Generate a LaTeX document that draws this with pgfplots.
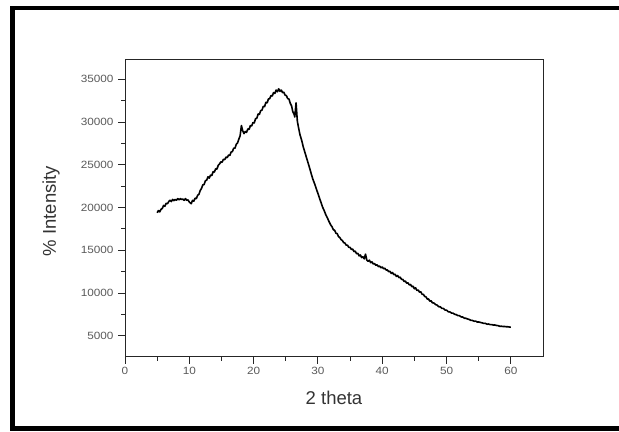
\documentclass[border=0pt]{standalone}
\usepackage{pgfplots}
\pgfplotsset{compat=1.18}
\usepackage{fontspec}
\setmainfont{Liberation Sans}
\newfontfamily\tickfont[FakeStretch=1.12]{Liberation Sans}
\begin{document}
\begin{tikzpicture}[x=1bp,y=1bp]
\useasboundingbox (0,0) rectangle (619,431);
\draw[line width=4.8bp] (640,2.5) -- (12.5,2.5) -- (12.5,423) -- (640,423);
\begin{axis}[
  at={(125bp,74.3bp)}, anchor=south west,
  scale only axis, width=418bp, height=297.4bp,
  xmin=0, xmax=65, ymin=2550, ymax=37350,
  xtick={0,10,...,60}, ytick={5000,10000,...,35000},
  minor x tick num=1, minor y tick num=1,
  xtick pos=bottom, ytick pos=left,
  tick align=outside,
  major tick length=7bp, minor tick length=4bp,
  axis line style={black!85, line width=0.9bp},
  every tick/.style={black!85, line width=0.9bp},
  scaled ticks=false,
  /pgf/number format/1000 sep={},
  /pgf/number format/assume math mode=true,
  ticklabel style={font=\tickfont\fontsize{10.5bp}{12bp}\selectfont, text=black!65},
  yticklabel style={xshift=-1bp},
  xlabel={2 theta}, ylabel={\% Intensity},
  label style={font=\fontsize{18.5bp}{21bp}\selectfont, text=black!80},
  xlabel style={at={(axis description cs:0.5,-0.139)}, anchor=center},
  ylabel style={at={(axis description cs:-0.177,0.49)}, anchor=center},
]
\addplot[black, line width=1.6bp, line join=round, mark=none] coordinates {
(5.0,19400) (5.2,19650) (5.4,19500) (5.6,19800) (5.8,19900) (6.0,20250) (6.2,20150) (6.4,20500)
(6.6,20450) (6.8,20700) (7.0,20850) (7.2,20700) (7.4,20950) (7.6,20800) (7.8,20950) (8.0,20850)
(8.2,21050) (8.4,20900) (8.6,21050) (8.8,20950) (9.0,21000) (9.2,20850) (9.4,21050) (9.6,20850)
(9.8,20900) (10.0,20650) (10.3,20450) (10.5,20850) (10.7,20750) (10.9,21100) (11.1,21050)
(11.3,21450) (11.5,21550) (11.7,22000) (11.9,22250) (12.1,22650) (12.3,22700) (12.5,23150)
(12.7,23200) (12.9,23600) (13.1,23450) (13.3,23800) (13.5,23750) (13.7,24200) (13.9,24150)
(14.1,24550) (14.3,24500) (14.5,24950) (14.7,25100) (14.9,25350) (15.1,25300) (15.3,25650)
(15.5,25600) (15.7,25900) (15.9,25850) (16.1,26150) (16.3,26100) (16.5,26500) (16.7,26550)
(16.9,26950) (17.1,26950) (17.3,27400) (17.5,27550) (17.7,28000) (17.9,28400) (18.1,29600)
(18.3,29000) (18.5,28650) (18.7,28900) (18.9,28800) (19.1,29200) (19.3,29150) (19.5,29600)
(19.7,29550) (19.9,29950) (20.1,29900) (20.3,30400) (20.5,30450) (20.7,30950) (20.9,30900)
(21.1,31350) (21.3,31400) (21.5,31850) (21.7,31800) (21.9,32300) (22.1,32250) (22.3,32700)
(22.5,32750) (22.7,33100) (22.9,33050) (23.1,33450) (23.3,33350) (23.5,33750) (23.7,33550)
(23.9,33900) (24.1,33600) (24.3,33750) (24.5,33450) (24.7,33500) (24.9,33150) (25.1,33100)
(25.3,32750) (25.5,32700) (25.7,32200) (25.9,31900) (26.1,31200) (26.3,30900) (26.4,30600)
(26.6,32250) (26.8,30100) (27.0,29300) (27.2,28550) (27.5,27800) (27.7,27150) (28.0,26400)
(28.2,25900) (28.5,25150) (28.7,24650) (29.0,23850) (29.2,23350) (29.5,22750) (29.7,22300)
(30.0,21650) (30.2,21200) (30.5,20550) (30.7,20100) (31.0,19600) (31.2,19200) (31.5,18750)
(31.7,18400) (32.0,17950) (32.2,17750) (32.4,17400) (32.6,17350) (32.8,17000) (33.0,16950)
(33.2,16600) (33.4,16500) (33.6,16250) (33.8,16150) (34.0,15900) (34.2,15850) (34.4,15600)
(34.6,15600) (34.8,15350) (35.0,15350) (35.2,15100) (35.4,15150) (35.6,14850) (35.8,14900)
(36.0,14600) (36.2,14650) (36.4,14350) (36.6,14450) (36.8,14150) (37.0,14250) (37.2,14000)
(37.4,14550) (37.6,13850) (37.8,13700) (38.0,13850) (38.2,13550) (38.4,13650) (38.6,13400)
(38.8,13450) (39.0,13250) (39.2,13300) (39.4,13100) (39.6,13150) (39.8,12950) (40.0,13050)
(40.2,12850) (40.4,12900) (40.6,12700) (40.8,12700) (41.0,12500) (41.2,12550) (41.4,12300)
(41.6,12400) (41.8,12150) (42.0,12200) (42.2,11950) (42.4,12050) (42.6,11800) (42.8,11850)
(43.0,11600) (43.2,11600) (43.4,11350) (43.6,11400) (43.8,11150) (44.0,11200) (44.2,10950)
(44.4,11000) (44.6,10750) (44.8,10800) (45.0,10500) (45.2,10600) (45.4,10300) (45.6,10350)
(45.8,10100) (46.0,10150) (46.2,9850) (46.4,9850) (46.6,9600) (46.8,9550) (47.0,9300)
(47.2,9300) (47.4,9050) (47.6,9100) (47.8,8850) (48.0,8850) (48.3,8650) (48.5,8600)
(48.8,8400) (49.0,8400) (49.3,8200) (49.5,8200) (49.8,8000) (50.0,8000) (50.3,7800)
(50.5,7800) (50.8,7650) (51.0,7650) (51.3,7500) (51.5,7480) (51.8,7350) (52.0,7350)
(52.3,7200) (52.5,7200) (52.8,7050) (53.0,7050) (53.3,6950) (53.5,6920) (53.8,6800)
(54.0,6800) (54.3,6700) (54.5,6720) (54.8,6600) (55.0,6620) (55.3,6550) (55.5,6520)
(55.8,6450) (56.0,6460) (56.3,6350) (56.5,6380) (56.8,6300) (57.0,6310) (57.3,6250)
(57.5,6260) (57.8,6200) (58.0,6190) (58.3,6100) (58.5,6120) (58.8,6080) (59.0,6090)
(59.3,6050) (59.5,6060) (59.8,6020) (60.0,6000)
};
\end{axis}
\end{tikzpicture}
\end{document}
